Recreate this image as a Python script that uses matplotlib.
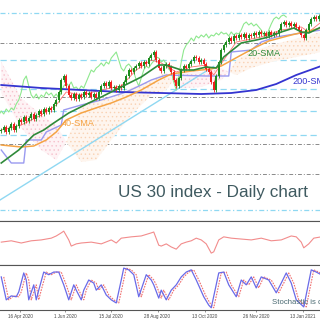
import numpy as np
import matplotlib
matplotlib.use("Agg")
import matplotlib.pyplot as plt

plt.rcParams['font.family'] = ['Liberation Sans', 'DejaVu Sans']
plt.rcParams['hatch.linewidth'] = 0.5

# ---------------- data ----------------
first_open = 23000
close = [23100, 23310, 22960, 23240, 23520, 23100, 23380, 23800, 23660, 24010,
         23730, 23940, 24220, 23870, 24150, 24430, 24220, 24570, 24360, 24640,
         24500, 24920, 25200, 25760, 26600, 26880, 26180, 25550, 25340, 25620,
         25270, 25550, 25410, 25760, 25550, 25690, 25410, 25620, 25340, 25760,
         26180, 26390, 26180, 26460, 26040, 26110, 25900, 26180, 26040, 26460,
         26880, 27300, 27160, 27440, 27580, 27790, 27580, 27860, 27720, 28140,
         28350, 28560, 28000, 27440, 27230, 27580, 27720, 27510, 27160, 26600,
         26180, 26740, 27300, 27580, 27440, 27720, 27930, 28210, 28140, 27860,
         28000, 27720, 27370, 27160, 26460, 25900, 26880, 27860, 28700, 29050,
         29260, 29540, 29330, 29680, 29540, 29750, 29610, 29820, 29540, 29750,
         29680, 29890, 29750, 29960, 29820, 29890, 29680, 29960, 29750, 29890,
         29820, 30100, 30520, 30660, 30450, 30590, 30380, 30520, 30310, 30100,
         29750, 29540, 30100, 30520, 30870, 31010, 30870, 31080, 31150, 31010]
chikou_shift = 15

sma20_x = [0, 7, 13, 17, 21, 27, 35, 40, 48, 56, 63, 66, 72, 77, 82, 86, 89, 96, 102, 107, 112, 117, 120, 123, 128]
sma20_y = [20790, 21700, 22750, 23100, 23590, 24290, 24990, 25410, 26110, 26810, 27650, 27650, 27300,
           27300, 27510, 27440, 28210, 29190, 29400, 29610, 29960, 30240, 29960, 29890, 30310]

sma40_x = [0, 8, 13, 18, 22, 26, 32, 39, 44, 50, 56, 63, 68, 76, 84, 88, 96, 102, 107, 116, 128]
sma40_y = [22050, 21910, 21980, 22400, 22960, 23800, 24290, 24710, 24990, 25410, 25900, 26600, 27020,
           27230, 27370, 27580, 28350, 28910, 29330, 29750, 30240]

sma200_x = [0, 16, 32, 48, 64, 80, 92, 102, 110, 118, 128]
sma200_y = [26250, 26040, 25900, 25760, 25690, 25620, 25690, 25900, 26320, 26950, 27580]

kijun_x = [0, 4, 9, 10, 16, 18, 24, 25, 32, 40, 50, 56, 60, 66, 82, 91, 92, 100, 104, 110, 120, 128]
kijun_y = [21700, 20790, 20790, 22400, 22400, 22960, 23450, 24500, 24850, 25200, 25760, 26250, 26600,
           26950, 26880, 26880, 28560, 28700, 29260, 29610, 29890, 30100]

tenkan_x = [0, 8, 16, 22, 26, 32, 40, 48, 54, 60, 64, 70, 76, 82, 85, 89, 94, 104, 112, 120, 123, 128]
tenkan_y = [23100, 23450, 24150, 24850, 25760, 25550, 25900, 26180, 27300, 28000, 27790, 27160, 27510,
            27650, 26950, 28000, 29260, 29610, 30100, 30310, 29960, 30660]

cloud_x = [0, 8, 16, 22, 26, 32, 38, 44, 52, 60, 66, 69, 72, 80, 88, 91, 94, 100, 108, 116, 128]
span_a = [25690, 23240, 21700, 21000, 22260, 24850, 25200, 25410, 26040, 26600, 27160, 26600, 26040,
          26110, 26600, 27160, 28000, 28560, 29050, 29400, 29960]
span_b = [27860, 25340, 24150, 23450, 22260, 20860, 21000, 22400, 24150, 25550, 25900, 26600, 27300,
          27160, 27440, 27160, 26950, 27440, 27860, 28140, 28560]

levels_cyan = [28000, 25970, 24430, 22750]
levels_cyan_dd = [31290, 17500]
levels_gray = [29190, 25410, 22120, 20020]
trend_x = [-0.5, 85]
trend_y = [18200, 27550]

rsi_x = [0, 4, 8, 12, 16, 20, 22, 24, 25, 27, 28, 30, 32, 36, 40, 44, 46, 48, 52, 56, 60, 61, 63, 64,
         66, 68, 70, 72, 74, 76, 78, 80, 82, 84, 85, 87, 89, 92, 96, 100, 104, 108, 112, 116, 118,
         120, 121, 123, 125, 128]
rsi_v = [52, 55, 50, 55, 57, 61, 66, 73, 77, 57, 43, 48, 50, 52, 48, 57, 50, 61, 64, 66, 73, 75, 45, 43,
         48, 41, 36, 48, 52, 55, 61, 57, 48, 27, 30, 57, 64, 61, 59, 57, 61, 55, 57, 66, 64,
         52, 39, 48, 61, 64]

stoch_x = [0, 2, 4, 6, 7, 9, 10, 11, 13, 14, 15, 17, 19, 21, 23, 25, 27, 29, 30, 32, 33, 35, 37, 38,
           40, 42, 44, 46, 48, 49, 51, 53, 55, 58, 60, 61, 63, 64, 66, 68, 70, 72, 74, 76, 78, 81,
           83, 84, 87, 89, 91, 94, 96, 98, 100, 102, 104, 107, 110, 112, 114, 116, 118, 121, 124,
           126, 128]
stoch_k = [75, 23, 32, 30, 41, 84, 68, 23, 57, 23, 45, 86, 80, 86, 86, 57, 23, 57, 45, 23, 45, 68, 61,
           45, 57, 34, 23, 16, 68, 95, 91, 80, 30, 80, 68, 57, 27, 45, 23, 45, 57, 75, 86, 91, 68,
           30, 11, 5, 84, 86, 57, 30, 68, 57, 75, 50, 75, 68, 39, 61, 84, 61, 23, 7, 91, 86, 80]
stoch_lag = 1

tick_pos = [7.5, 25.5, 44, 62.5, 81.5, 102, 120.5]
tick_labels = ['16 Apr 2020', '1 Jun 2020', '15 Jul 2020', '28 Aug 2020',
               '13 Oct 2020', '26 Nov 2020', '13 Jan 2021']

# ---------------- figure ----------------
W = H = 320
fig = plt.figure(figsize=(3.2, 3.2), dpi=100)
fig.patch.set_facecolor('white')

def px_axes(top, bottom):
    return fig.add_axes([0, 1 - bottom / H, 1, (bottom - top) / H])

ax = px_axes(0, 221)
ax_r = px_axes(221, 265)
ax_s = px_axes(265, 310)

xlim = (-0.5, 127.5)
for a in (ax, ax_r, ax_s):
    a.set_xlim(*xlim)
    a.set_yticks([])
    a.set_facecolor('white')
    for s in ('left', 'right'):
        a.spines[s].set_visible(False)
    for s in ('top', 'bottom'):
        a.spines[s].set_color('#555555')
        a.spines[s].set_linewidth(0.8)
ax.spines['top'].set_visible(False)

ax.set_ylim(16730, 32200)

# horizontal levels
for lv in levels_cyan:
    ax.axhline(lv, color='#8fd8f2', lw=0.9, ls=(0, (5, 3)), zorder=1)
for lv in levels_cyan_dd:
    ax.axhline(lv, color='#8fd8f2', lw=0.9, ls=(0, (4, 2, 1, 2)), zorder=1)
for lv in levels_gray:
    ax.axhline(lv, color='#8a8a8a', lw=0.7, ls=(0, (4, 2, 1, 2)), zorder=1)

# cloud
cx = np.array(cloud_x, float)
sa = np.array(span_a, float)
sb = np.array(span_b, float)
ax.fill_between(cx, sa, sb, where=sa >= sb, interpolate=True, facecolor='#fef5ee',
                edgecolor='#f9d2b4', hatch='....', linewidth=0, zorder=2)
ax.fill_between(cx, sa, sb, where=sa < sb, interpolate=True, facecolor='#fef3f5',
                edgecolor='#f6c0cc', hatch='....', linewidth=0, zorder=2)

# trendline
ax.plot(trend_x, trend_y, color='#8fd8f2', lw=1.0, zorder=2)

# ichimoku lines
c = np.array(close, float)
idx = np.arange(len(c))
ax.plot(idx - chikou_shift, c, color='#8ee88e', lw=0.8, zorder=3)
ax.plot(kijun_x, kijun_y, color='#9a9af0', lw=1.0, zorder=3)
ax.plot(tenkan_x, tenkan_y, color='#ff7070', lw=0.6, zorder=3)
ax.plot(sma200_x, sma200_y, color='#3434d0', lw=1.3, zorder=3)
ax.plot(sma40_x, sma40_y, color='#f5a445', lw=1.1, zorder=4)

# candles
o = np.r_[first_open, c[:-1]]
up = c >= o
hi = np.maximum(o, c) + 130
lo = np.minimum(o, c) - 130
colors = np.where(up, '#1e8c1e', '#ee2020')
ax.vlines(idx, lo, hi, colors=colors, lw=0.6, zorder=5)
ax.bar(idx, np.abs(c - o) + 25, bottom=np.minimum(o, c), width=0.72, color=colors,
       linewidth=0, zorder=6)

ax.plot(sma20_x, sma20_y, color='#2f8a3a', lw=1.2, zorder=7)

ax.text(98.3, 28490, '20-SMA', color='#2f8a3a', fontsize=6.6, va='center', ha='left', zorder=8)
ax.text(24.3, 23555, '40-SMA', color='#f5a445', fontsize=6.6, va='center', ha='left', zorder=8)
ax.text(116.3, 26495, '200-SMA', color='#3434d0', fontsize=6.6, va='center', ha='left', zorder=8)

fig.text(118 / W, 1 - 193 / H, 'US 30 index - Daily chart', color='#3f5a60',
         fontsize=12.3, ha='left', va='center')

# RSI
ax_r.set_ylim(0, 100)
ax_r.plot(rsi_x, rsi_v, color='#f28c8c', lw=0.8)

# Stochastic
ax_s.set_ylim(0, 102)
ax_s.plot(np.array(stoch_x) + stoch_lag, stoch_k, color='#f07070', lw=0.8, ls=(0, (1.5, 1)))
ax_s.plot(stoch_x, stoch_k, color='#6a6ae8', lw=0.9)
ax_s.text(108.3, 16, 'Stochastic is declining', color='#4a6a72', fontsize=5.6,
          ha='left', va='center', zorder=8)

for a in (ax, ax_r):
    a.set_xticks([])
ax_s.set_xticks(tick_pos)
ax_s.set_xticklabels(tick_labels, fontsize=3.3, color='#444444')
ax_s.tick_params(axis='x', length=1.5, width=0.5, pad=1.2, color='#666666')

fig.savefig('out.png', dpi=100, facecolor='white')
